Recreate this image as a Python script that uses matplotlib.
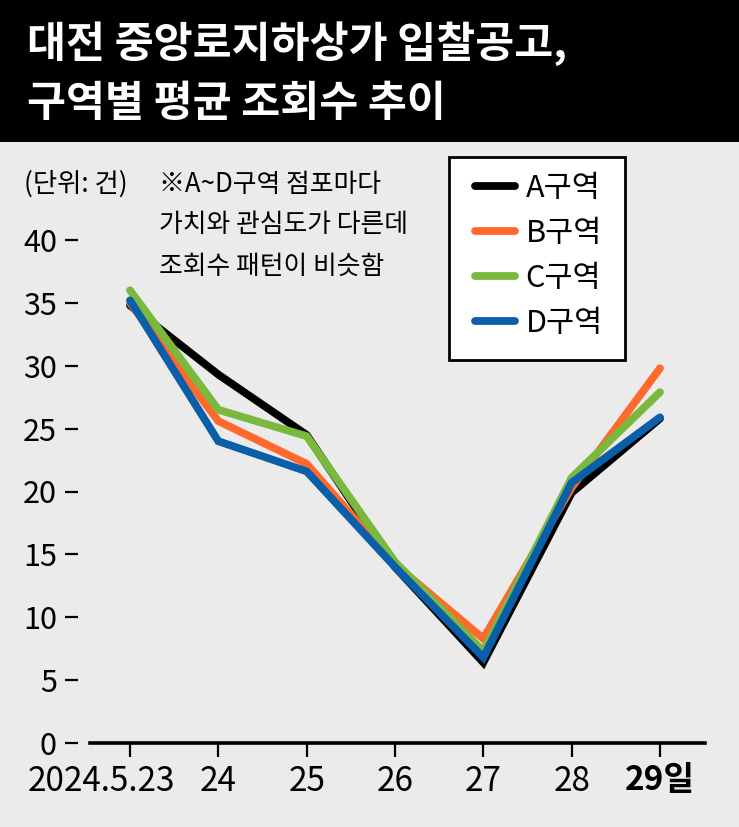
import matplotlib.pyplot as plt
from matplotlib.patches import Rectangle
from matplotlib.transforms import ScaledTranslation

days = ['2024.5.23', '24', '25', '26', '27', '28', '29일']
zone_a = [34.8, 29.3, 24.5, 14.0, 6.4, 19.9, 25.8]
zone_b = [35.0, 25.6, 22.2, 14.2, 8.3, 20.3, 29.8]
zone_c = [36.0, 26.5, 24.4, 14.4, 7.3, 21.1, 27.9]
zone_d = [35.2, 24.0, 21.6, 14.0, 6.8, 20.7, 25.9]
zone_names = ['A구역', 'B구역', 'C구역', 'D구역']
zone_colors = ['#000000', '#ff6a2c', '#7ab83e', '#0b5ea8']
y_ticks = [0, 5, 10, 15, 20, 25, 30, 35, 40]

title_lines = ['대전 중앙로지하상가 입찰공고,', '구역별 평균 조회수 추이']
note_lines = ['※A~D구역 점포마다', '가치와 관심도가 다른데', '조회수 패턴이 비슷함']
unit_text = '(단위: 건)'

bg = '#ebebeb'
W, H = 739, 827
plt.rcParams['font.family'] = ['Noto Sans CJK KR', 'DejaVu Sans']


def fx(px):
    return px / W


def fy(py):
    return 1 - py / H


def start():
    fig = plt.figure(figsize=(W / 100, H / 100), dpi=100, facecolor=bg)

    # black title band
    fig.patches.append(Rectangle((0, fy(142)), 1, 142 / H, transform=fig.transFigure,
                                 facecolor='black', edgecolor='none', zorder=0))
    for i, line in enumerate(title_lines):
        fig.text(fx(27), fy(44 + 60 * i), line, color='white', fontsize=30.5,
                 fontweight='bold', va='center', ha='left')

    ax = fig.add_axes([fx(78), fy(743), fx(705) - fx(78), (743 - 150) / H])
    ax.set_facecolor(bg)
    x = list(range(len(days)))
    lines = []
    for vals, name, col in zip([zone_a, zone_b, zone_c, zone_d], zone_names, zone_colors):
        ln, = ax.plot(x, vals, color=col, lw=5.6, label=name,
                      solid_joinstyle='miter', solid_capstyle='round')
        lines.append(ln)

    ax.set_xlim((78 - 130) / 88.33, (705 - 130) / 88.33)
    ax.set_ylim(0, (743 - 150) / 12.575)
    for s in ['left', 'top', 'right']:
        ax.spines[s].set_visible(False)
    ax.spines['bottom'].set_linewidth(2.6)
    ax.spines['bottom'].set_bounds((90 - 130) / 88.33, (705 - 130) / 88.33)

    ax.set_xticks(x)
    ax.set_xticklabels(days)
    ax.set_yticks(y_ticks)
    ax.set_yticklabels([str(v) for v in y_ticks])
    ax.tick_params(axis='x', length=10, width=1.6, pad=5, labelsize=24)
    ax.tick_params(axis='y', length=9.4, width=1.6, pad=5.8, labelsize=22)
    labels = ax.get_xticklabels()
    labels[-1].set_fontweight('bold')
    labels[0].set_transform(labels[0].get_transform() +
                            ScaledTranslation(-0.29, 0, fig.dpi_scale_trans))

    fig.text(fx(24), fy(184), unit_text, fontsize=19, va='center', ha='left')
    for i, line in enumerate(note_lines):
        fig.text(fx(159), fy(184 + 41 * i), line, fontsize=18.6, va='center', ha='left')

    # legend box
    fig.patches.append(Rectangle((fx(449), fy(360)), fx(625) - fx(449), (360 - 157) / H,
                                 transform=fig.transFigure, facecolor='white',
                                 edgecolor='black', lw=2, zorder=3))
    leg = fig.legend(handles=lines, loc='upper left', bbox_to_anchor=(fx(475), fy(173)),
                     frameon=False, fontsize=22,
                     handlelength=1.3, handletextpad=0.36, labelspacing=0.46,
                     borderpad=0, borderaxespad=0)
    leg.set_zorder(5)

    fig.savefig('out.png', dpi=100, facecolor=bg)


if __name__ == '__main__':
    start()
